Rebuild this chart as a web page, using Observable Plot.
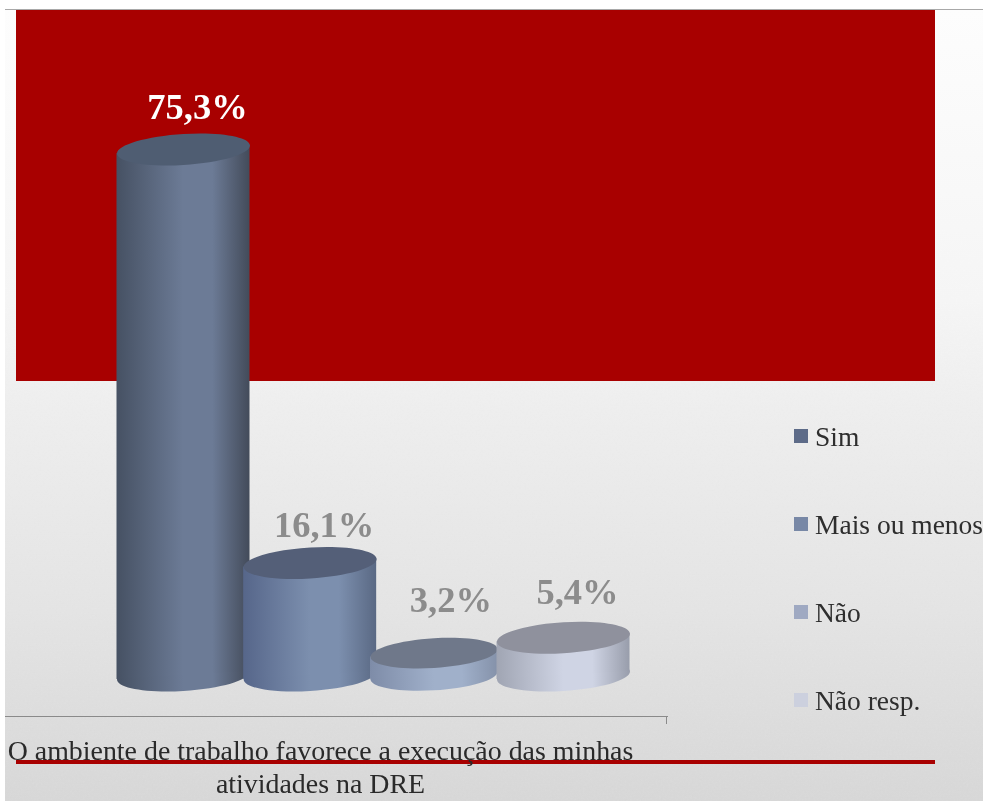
<!DOCTYPE html>
<html lang="pt">
<head>
<meta charset="utf-8">
<script src="https://cdn.jsdelivr.net/npm/d3@7"></script>
<script src="https://cdn.jsdelivr.net/npm/@observablehq/plot@0.6"></script>
<style>
  html, body { margin: 0; padding: 0; width: 983px; height: 801px; overflow: hidden; background: #fff; }
  #stage { position: relative; width: 983px; height: 801px; overflow: hidden; background: #fff; }
  #paper { position: absolute; left: 5px; top: 10px; width: 978px; height: 791px;
           background: linear-gradient(#fdfdfd 0px, #f5f5f5 290px, #ededed 400px, #e3e3e3 600px, #d6d6d6 791px); }
  #grain { position: absolute; left: 5px; top: 10px; width: 978px; height: 791px; opacity: .3; mix-blend-mode: soft-light; }
  #topline { position: absolute; left: 5px; top: 9px; width: 978px; height: 1px; background: #a8a8a8; }
  #panel { position: absolute; left: 16px; top: 10px; width: 919px; height: 371px; background: #a80000; }
  #rule { position: absolute; left: 16px; top: 760px; width: 919px; height: 4px; background: #a80000; }
  #tick { position: absolute; left: 666px; top: 716px; width: 1px; height: 8px; background: #8a8a8a; }
  #chart { position: absolute; left: 0; top: 0; filter: blur(0.45px); }
  #chart svg { display: block; background: transparent; }
  #legend { filter: blur(0.4px); }
  #legend div { position: absolute; left: 815px; font: 27.5px "Liberation Serif", serif; color: #2e2e2e; white-space: nowrap; line-height: 30px; }
  #legend i { position: absolute; left: -21px; top: 7px; width: 14px; height: 14px; }
</style>
</head>
<body>
<div id="stage">
  <div id="paper"></div>
  <svg id="grain" xmlns="http://www.w3.org/2000/svg">
    <filter id="noise"><feTurbulence type="fractalNoise" baseFrequency="0.55" numOctaves="2" seed="4"/><feColorMatrix type="saturate" values="0"/></filter>
    <rect width="100%" height="100%" filter="url(#noise)"/>
  </svg>
  <div id="topline"></div>
  <div id="panel"></div>
  <div id="rule"></div>
  <div id="tick"></div>
  <div id="chart"></div>
  <div id="legend"></div>
</div>
<script>
const categories = ["Sim", "Mais ou menos", "Não", "Não resp."];
const values = [75.3, 16.1, 3.2, 5.4];
const valueLabels = ["75,3%", "16,1%", "3,2%", "5,4%"];
const labelColors = ["#ffffff", "#8c8c8c", "#8c8c8c", "#8c8c8c"];
const labelLift = [-42, -38, -53, -45];
const swatchColors = ["#5d6b88", "#7888a6", "#9fa9c2", "#ccd0de"];
const legendTops = [422, 510, 598, 686];
const sideEdgeLeft = ["#465163", "#56668a", "#7e8ca8", "#a0a5b3"];
const sideCenter = ["#6c7b96", "#7c8fae", "#a0b0ca", "#cfd4e4"];
const sideEdgeRight = ["#434b5a", "#5a6984", "#8592aa", "#989dab"];
const capColors = ["#4f5d72", "#545f78", "#6f788a", "#8f919d"];
const xTitle = "O ambiente de trabalho favorece a execução das minhas\natividades na DRE";
// The third cylinder is drawn a little narrower and further left than the others.
const cylinderRadius = [66.5, 66.5, 63.5, 66.5];
const cylinderShift = [0, 0, -2.8, 0];

const serif = "Liberation Serif";
const table = categories.map((category, i) => ({category, value: values[i], label: valueLabels[i]}));

// Cylinder cap: an ellipse sheared to follow the picture's perspective.
const tilt = 0.06;
const ryRatio = 15.5 / 66.5;
const capSymbol = {
  draw(ctx, size) {
    const rx = Math.sqrt(size / Math.PI), ry = rx * ryRatio, m = 0.5523;
    const p = (a, b) => [a * rx, b * ry - tilt * a * rx];
    const seq = [[[1, m], [m, 1], [0, 1]], [[-m, 1], [-1, m], [-1, 0]], [[-1, -m], [-m, -1], [0, -1]], [[m, -1], [1, -m], [1, 0]]];
    ctx.moveTo(...p(1, 0));
    for (const [a, b, c] of seq) ctx.bezierCurveTo(...p(...a), ...p(...b), ...p(...c));
    ctx.closePath();
  }
};
const shear = (index, scales, vals, dims, context, next) => {
  const g = next(index, scales, vals, dims, context);
  d3.select(g).selectAll("rect").attr("transform", function () {
    const c = +this.getAttribute("x") + this.getAttribute("width") / 2;
    return `translate(${c},0) matrix(1 ${-tilt} 0 1 0 0) translate(${-c},0)`;
  });
  return g;
};
const gradients = () => {
  const defs = d3.create("svg:defs");
  categories.forEach((_, i) => {
    const g = defs.append("linearGradient").attr("id", `side${i}`);
    [[0, sideEdgeLeft[i]], [0.5, sideCenter[i]], [0.72, sideCenter[i]], [1, sideEdgeRight[i]]]
      .forEach(([o, c]) => g.append("stop").attr("offset", o).attr("stop-color", c));
  });
  return defs.node();
};
const stepHalf = 63.33;
const cylinders = table.flatMap((d, i) => {
  const r = cylinderRadius[i], dx = cylinderShift[i], inset = stepHalf - r;
  return [
    Plot.dot([d], {x: "category", y: () => 0, r, dx, symbol: capSymbol, fill: `url(#side${i})`}),
    Plot.barY([d], {x: "category", y: "value", dx, fill: `url(#side${i})`, insetLeft: inset, insetRight: inset, render: shear}),
    Plot.dot([d], {x: "category", y: "value", r, dx, symbol: capSymbol, fill: capColors[i]})
  ];
});
const labels = table.map((d, i) => Plot.text([d], {
  x: "category", y: "value", text: "label", dx: 14, dy: labelLift[i],
  fontFamily: serif, fontWeight: "bold", fontSize: 36.5, fill: labelColors[i]
}));

const chart = Plot.plot({
  width: 983, height: 801,
  marginLeft: 5, marginRight: 316, marginTop: 10, marginBottom: 85,
  style: {background: "transparent", overflow: "visible"},
  x: {type: "band", domain: categories, range: [119.67, 626.33], padding: 0, round: false, axis: null},
  y: {domain: [0, 75.3], range: [675, 149], axis: null},
  marks: [
    gradients,
    Plot.frame({anchor: "bottom", stroke: "#8a8a8a"}),
    ...cylinders,
    ...labels,
    Plot.text([xTitle], {
      frameAnchor: "bottom", dx: -16, dy: 76, lineAnchor: "bottom", lineHeight: 1.18,
      fontFamily: serif, fontSize: 27.9, fill: "#2a2a2a"
    })
  ]
});
document.getElementById("chart").append(chart);

const legend = document.getElementById("legend");
categories.forEach((c, i) => {
  const row = document.createElement("div");
  row.style.top = legendTops[i] + "px";
  row.textContent = c;
  const sw = document.createElement("i");
  sw.style.background = swatchColors[i];
  row.prepend(sw);
  legend.append(row);
});
</script>
</body>
</html>
